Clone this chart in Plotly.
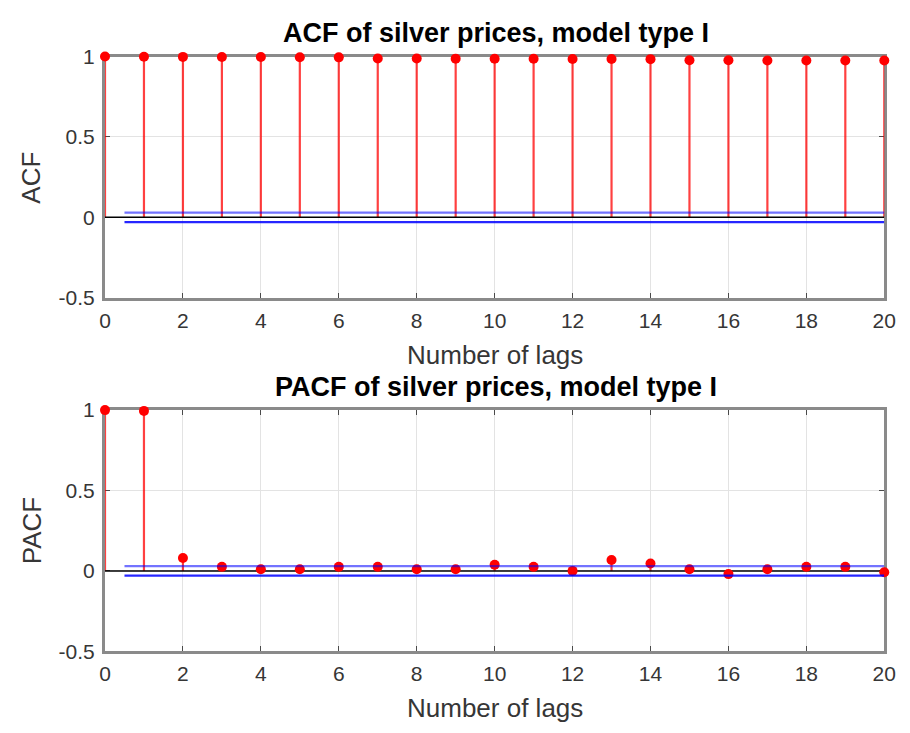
import plotly.graph_objects as go

lags = list(range(21))
acf_vals = [1.000, 0.999, 0.998, 0.997, 0.997, 0.996, 0.995, 0.988, 0.988, 0.987,
            0.986, 0.986, 0.985, 0.985, 0.984, 0.977, 0.977, 0.976, 0.976, 0.975, 0.975]
pacf_vals = [1.000, 0.995, 0.080, 0.025, 0.010, 0.010, 0.025, 0.025, 0.010, 0.010,
             0.038, 0.025, 0.000, 0.068, 0.046, 0.010, -0.020, 0.010, 0.025, 0.025, -0.008]
conf_bound = 0.03
conf_x = [0.5, 20]
x_ticks = [0, 2, 4, 6, 8, 10, 12, 14, 16, 18, 20]
y_ticks = [-0.5, 0, 0.5, 1]
titles = ["ACF of silver prices, model type I", "PACF of silver prices, model type I"]
ylabels = ["ACF", "PACF"]
xlabel = "Number of lags"

W, H = 910, 733
FONT = "Liberation Sans, Arial, sans-serif"
TXT = "#363636"
FRAME = "#8a8a8a"

# panel pixel boxes (left, top, right, bottom)
panels = [(101, 46, 896, 295), (101, 411, 896, 660)]
title_y = [19, 384]
xlabel_y = [351, 716]

fig = go.Figure()

def px_x(p):
    return p / W

def px_y(p):
    return 1 - p / H

for i, (vals, (l, t, r, b)) in enumerate(zip([acf_vals, pacf_vals], panels)):
    xa = "x" if i == 0 else "x2"
    ya = "y" if i == 0 else "y2"
    # stems
    sx, sy = [], []
    for lag, v in zip(lags, vals):
        sx += [lag, lag, None]
        sy += [0, v, None]
    fig.add_trace(go.Scatter(x=sx, y=sy, mode="lines", xaxis=xa, yaxis=ya,
                             line=dict(color="rgba(255,0,0,0.75)", width=2.2),
                             cliponaxis=False,
                             hoverinfo="skip", showlegend=False))
    # zero line
    fig.add_trace(go.Scatter(x=[0, 20], y=[0, 0], mode="lines", xaxis=xa, yaxis=ya,
                             line=dict(color="black", width=1.5),
                             hoverinfo="skip", showlegend=False))
    # markers
    fig.add_trace(go.Scatter(x=lags, y=vals, mode="markers", xaxis=xa, yaxis=ya,
                             marker=dict(color="red", size=10, line=dict(width=0)),
                             cliponaxis=False, showlegend=False))
    # confidence bounds
    for sgn, op in [(1, 0.55), (-1, 0.85)]:
        fig.add_trace(go.Scatter(x=conf_x, y=[sgn * conf_bound] * 2, mode="lines",
                                 xaxis=xa, yaxis=ya,
                                 line=dict(color=f"rgba(0,0,255,{op})", width=2.2),
                                 hoverinfo="skip", showlegend=False))

    axis_common = dict(showline=True, linecolor=FRAME, linewidth=3, mirror="ticks",
                       ticks="inside", ticklen=5, tickwidth=1.2, tickcolor="#4a4a4a",
                       showgrid=True, gridcolor="#e3e3e3", gridwidth=1,
                       zeroline=False, layer="below traces",
                       tickfont=dict(family=FONT, size=21, color=TXT))
    xkey = "xaxis" if i == 0 else "xaxis2"
    ykey = "yaxis" if i == 0 else "yaxis2"
    fig.update_layout(**{
        xkey: dict(domain=[px_x(l), px_x(r)], range=[0, 20], tickvals=x_ticks,
                   anchor=ya, ticklabelstandoff=2, **axis_common),
        ykey: dict(domain=[px_y(b), px_y(t)], range=[-0.5, 1], tickvals=y_ticks,
                   ticktext=["-0.5", "0", "0.5", "1"], anchor=xa,
                   ticklabelstandoff=3, **axis_common),
    })
    cx = (l + r) / 2
    fig.add_annotation(text=f"<b>{titles[i]}</b>", x=px_x(cx + 1), y=px_y(title_y[i] + 3),
                       xref="paper", yref="paper", showarrow=False,
                       xanchor="center", yanchor="middle",
                       font=dict(family=FONT, size=27, color="black"))
    fig.add_annotation(text=xlabel, x=px_x(cx), y=px_y(xlabel_y[i] + 3),
                       xref="paper", yref="paper", showarrow=False,
                       xanchor="center", yanchor="middle",
                       font=dict(family=FONT, size=26, color=TXT))
    fig.add_annotation(text=ylabels[i], x=px_x(26), y=px_y((t + b) / 2),
                       xref="paper", yref="paper", showarrow=False, textangle=-90,
                       xanchor="center", yanchor="middle",
                       font=dict(family=FONT, size=26, color=TXT))

fig.update_layout(width=W, height=H, margin=dict(l=0, r=0, t=0, b=0),
                  paper_bgcolor="white", plot_bgcolor="white", showlegend=False)

fig.write_html("out.html")
